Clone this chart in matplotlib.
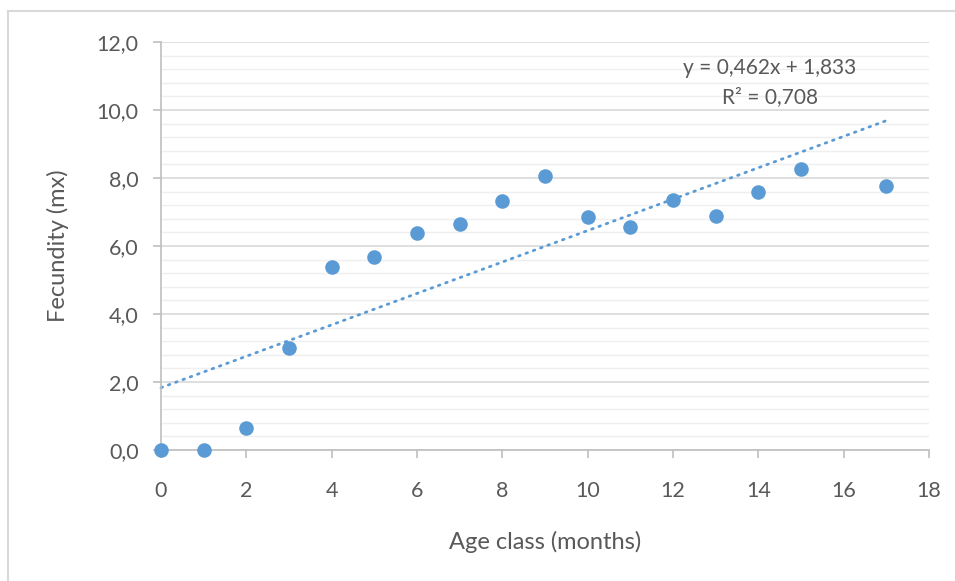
import matplotlib.pyplot as plt
from matplotlib.lines import Line2D
from matplotlib.ticker import MultipleLocator, FuncFormatter
import numpy as np

# Datos: clase de edad (meses) y fecundidad (mx)
edad = [0, 1, 2, 3, 4, 5, 6, 7, 8, 9, 10, 11, 12, 13, 14, 15, 17]
fecundidad = [0.0, 0.0, 0.65, 3.0, 5.38, 5.68, 6.38, 6.65, 7.32, 8.06,
              6.85, 6.56, 7.35, 6.88, 7.59, 8.26, 7.76]

# Coeficientes de la linea de tendencia
pendiente = 0.462
intercepto = 1.833
r2 = 0.708

azul = '#5b9bd5'
gris_texto = '#595959'

plt.rcParams['font.family'] = ['Lato', 'DejaVu Sans']

fig = plt.figure(figsize=(9.55, 5.81), dpi=100)
ax = fig.add_axes([161 / 955, 1 - 450 / 581, 768 / 955, 408 / 581])

# Borde del area del grafico (solo arriba e izquierda)
fig.add_artist(Line2D([8 / 955, 8 / 955], [0, 1 - 11 / 581], transform=fig.transFigure,
                      color='#d9d9d9', lw=1.5))
fig.add_artist(Line2D([8 / 955, 1], [1 - 11 / 581, 1 - 11 / 581], transform=fig.transFigure,
                      color='#d9d9d9', lw=1.5))

ax.set_xlim(0, 18)
ax.set_ylim(0, 12)

# Cuadricula principal y secundaria
ax.yaxis.set_major_locator(MultipleLocator(2))
ax.yaxis.set_minor_locator(MultipleLocator(0.4))
ax.xaxis.set_major_locator(MultipleLocator(2))
ax.grid(which='major', axis='y', color='#d9d9d9', lw=1.2, zorder=0)
ax.grid(which='minor', axis='y', color='#efefef', lw=1.0, zorder=0)
ax.set_axisbelow(True)

for lado in ['top', 'right']:
    ax.spines[lado].set_visible(False)
ax.spines['left'].set_color('#bfbfbf')
ax.spines['bottom'].set_color('#bfbfbf')
ax.spines['left'].set_linewidth(1.2)
ax.spines['bottom'].set_linewidth(1.2)

ax.tick_params(axis='y', which='major', length=6, color='#bfbfbf', width=1.2,
               labelsize=15.5, labelcolor=gris_texto, pad=10)
ax.tick_params(axis='y', which='minor', length=0)
ax.tick_params(axis='x', which='major', length=6, color='#bfbfbf', width=1.2,
               labelsize=15.5, labelcolor=gris_texto, pad=16)
ax.yaxis.set_major_formatter(FuncFormatter(lambda v, p: f'{v:.1f}'.replace('.', ',')))

# Linea de tendencia
xt = np.array([0, max(edad)])
ax.plot(xt, pendiente * xt + intercepto, color=azul, lw=2.0,
        linestyle=(0, (0.6, 2.2)), dash_capstyle='round', zorder=2, clip_on=False)

# Puntos
ax.scatter(edad, fecundidad, s=110, color=azul, zorder=3, clip_on=False, linewidths=0)

ax.text(14.27, 11.24, f'y = {pendiente:.3f}x + {intercepto:.3f}'.replace('.', ','),
        ha='center', va='center', fontsize=15, color=gris_texto)
ax.text(14.27, 10.38, f'R² = {r2:.3f}'.replace('.', ','),
        ha='center', va='center', fontsize=15, color=gris_texto)

ax.set_xlabel('Age class (months)', fontsize=17, color=gris_texto, labelpad=22)
ax.set_ylabel('Fecundity (mx)', fontsize=17, color=gris_texto, labelpad=20)

plt.savefig('out.png', dpi=100)
